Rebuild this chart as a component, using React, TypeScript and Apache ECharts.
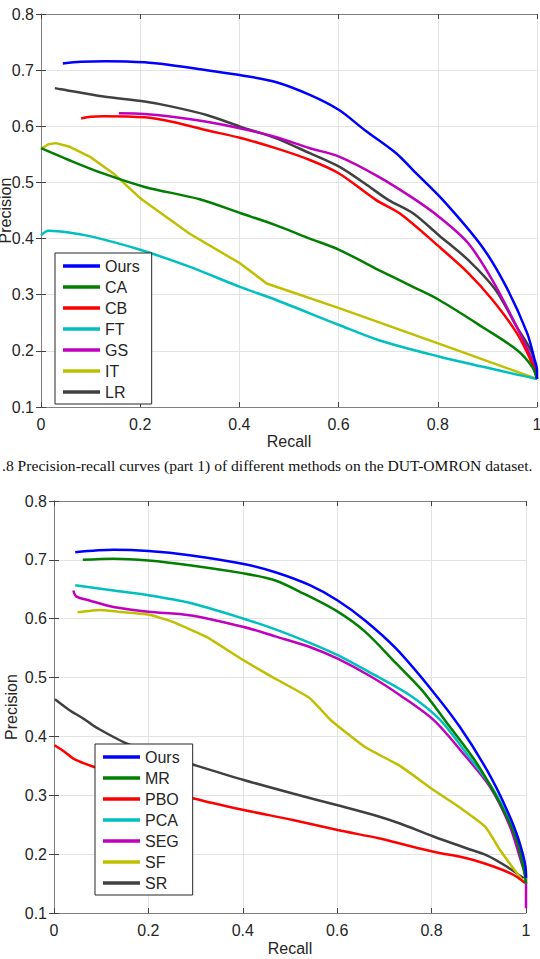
import React, { useEffect, useRef } from "react";
import * as echarts from "echarts";

// ---------- Data (recall, precision) ----------
const topNames = ["Ours", "CA", "CB", "FT", "GS", "IT", "LR"];
const bottomNames = ["Ours", "MR", "PBO", "PCA", "SEG", "SF", "SR"];

const xTickLabels = ["0", "0.2", "0.4", "0.6", "0.8", "1"];
const yTickLabels = ["0.1", "0.2", "0.3", "0.4", "0.5", "0.6", "0.7", "0.8"];

const oursTop = [[0.044,0.712],[0.08,0.715],[0.132,0.716],[0.209,0.714],[0.27,0.708],[0.334,0.700],[0.403,0.691],[0.473,0.679],[0.542,0.656],[0.601,0.629],[0.653,0.593],[0.716,0.552],[0.75,0.522],[0.81,0.469],[0.889,0.386],[0.938,0.314],[0.98,0.232],[0.995,0.185],[1.0,0.166],[1.0,0.15]];
const caTop = [[0,0.561],[0.056,0.540],[0.125,0.516],[0.209,0.492],[0.32,0.470],[0.403,0.445],[0.473,0.424],[0.542,0.400],[0.601,0.380],[0.681,0.344],[0.75,0.314],[0.802,0.291],[0.889,0.243],[0.959,0.202],[0.99,0.172],[1.0,0.15]];
const cbTop = [[0.081,0.614],[0.1,0.617],[0.125,0.618],[0.209,0.616],[0.264,0.608],[0.334,0.593],[0.403,0.579],[0.473,0.561],[0.542,0.540],[0.601,0.516],[0.675,0.469],[0.723,0.445],[0.802,0.386],[0.861,0.339],[0.910,0.291],[0.959,0.232],[0.990,0.178],[1.0,0.15]];
const ftTop = [[0,0.406],[0.015,0.414],[0.056,0.411],[0.105,0.403],[0.2,0.380],[0.299,0.350],[0.401,0.314],[0.473,0.291],[0.601,0.246],[0.681,0.219],[0.802,0.190],[0.889,0.172],[0.959,0.158],[1.0,0.15]];
const gsTop = [[0.157,0.623],[0.209,0.622],[0.264,0.617],[0.334,0.608],[0.403,0.596],[0.473,0.581],[0.542,0.561],[0.601,0.546],[0.681,0.510],[0.75,0.472],[0.802,0.439],[0.861,0.392],[0.910,0.326],[0.959,0.243],[0.990,0.184],[1.0,0.15]];
const itTop = [[0,0.56],[0.015,0.568],[0.03,0.570],[0.056,0.564],[0.098,0.546],[0.146,0.516],[0.2,0.472],[0.299,0.409],[0.401,0.356],[0.455,0.320],[0.601,0.276],[0.802,0.213],[1.0,0.15]];
const lrTop = [[0.028,0.668],[0.04,0.666],[0.126,0.653],[0.209,0.644],[0.264,0.635],[0.334,0.620],[0.403,0.599],[0.473,0.579],[0.542,0.552],[0.601,0.528],[0.653,0.498],[0.70,0.469],[0.75,0.445],[0.802,0.406],[0.861,0.362],[0.917,0.308],[0.959,0.243],[0.99,0.196],[1.0,0.15]];

const oursBot = [[0.045,0.713],[0.126,0.717],[0.2,0.715],[0.287,0.708],[0.402,0.693],[0.469,0.679],[0.542,0.657],[0.601,0.631],[0.659,0.597],[0.725,0.549],[0.800,0.479],[0.860,0.416],[0.917,0.343],[0.959,0.276],[0.987,0.218],[1.0,0.168],[1.0,0.16]];
const mrBot = [[0.061,0.700],[0.126,0.702],[0.2,0.699],[0.287,0.691],[0.402,0.677],[0.469,0.665],[0.528,0.643],[0.601,0.612],[0.659,0.578],[0.725,0.524],[0.779,0.479],[0.839,0.416],[0.896,0.354],[0.945,0.286],[0.980,0.224],[0.998,0.162],[1.0,0.15]];
const pboBot = [[0.001,0.385],[0.022,0.374],[0.046,0.360],[0.104,0.343],[0.2,0.317],[0.294,0.295],[0.402,0.275],[0.506,0.258],[0.601,0.241],[0.688,0.227],[0.733,0.218],[0.804,0.204],[0.874,0.193],[0.931,0.179],[0.973,0.165],[0.998,0.151]];
const pcaBot = [[0.045,0.657],[0.126,0.648],[0.2,0.640],[0.287,0.627],[0.402,0.600],[0.469,0.582],[0.542,0.559],[0.601,0.538],[0.673,0.507],[0.754,0.470],[0.818,0.428],[0.874,0.371],[0.931,0.309],[0.973,0.241],[0.995,0.184],[1.0,0.15]];
const segBot = [[0.041,0.648],[0.047,0.638],[0.075,0.631],[0.126,0.620],[0.2,0.612],[0.287,0.606],[0.402,0.586],[0.469,0.570],[0.542,0.552],[0.601,0.532],[0.673,0.501],[0.733,0.470],[0.804,0.428],[0.867,0.371],[0.924,0.314],[0.966,0.247],[0.991,0.184],[1.0,0.162],[1.0,0.108]];
const sfBot = [[0.05,0.611],[0.097,0.615],[0.136,0.612],[0.2,0.607],[0.25,0.595],[0.323,0.569],[0.396,0.532],[0.469,0.498],[0.542,0.465],[0.586,0.428],[0.659,0.382],[0.733,0.350],[0.804,0.309],[0.853,0.283],[0.913,0.247],[0.945,0.207],[0.973,0.176],[0.995,0.153]];
const srBot = [[0.002,0.463],[0.032,0.445],[0.061,0.431],[0.09,0.415],[0.163,0.385],[0.287,0.354],[0.402,0.326],[0.506,0.303],[0.601,0.283],[0.688,0.264],[0.733,0.252],[0.804,0.230],[0.874,0.210],[0.917,0.198],[0.959,0.179],[0.995,0.159]];

const topData = [oursTop, caTop, cbTop, ftTop, gsTop, itTop, lrTop];
const bottomData = [oursBot, mrBot, pboBot, pcaBot, segBot, sfBot, srBot];

const colors = ["#0000ff", "#007f00", "#ff0000", "#00bfbf", "#bf00bf", "#bfbf00", "#404040"];
const smoothTop = [0.3, 0.3, 0.3, 0.3, 0.3, 0, 0.3];
const smoothBottom = [0.3, 0.3, 0.3, 0.3, 0.3, 0.15, 0.3];

const caption = ".8 Precision-recall curves (part 1) of different methods on the DUT-OMRON dataset.";

const SANS = "Liberation Sans, Arial, Helvetica, sans-serif";
const TEXT = "#262626";
const FRAME = "#808080";
const GRID = "#e3e3e3";

function fmtX(v: number) {
  const r = Math.round(v * 5);
  return xTickLabels[r] ?? String(v);
}
function fmtY(v: number) {
  const r = Math.round(v * 10) - 1;
  return yTickLabels[r] ?? String(v);
}

export default function App() {
  const ref = useRef<HTMLDivElement>(null);
  useEffect(() => {
    if (!ref.current) return;
    const chart = echarts.init(ref.current, undefined, { renderer: "svg" });

    const xMain = (gridIndex: number, gap: number) => ({
      type: "value", gridIndex, min: 0, max: 1, interval: 0.2, position: "bottom",
      name: "Recall", nameLocation: "middle", nameGap: gap, nameMoveOverlap: false,
      nameTextStyle: { fontFamily: SANS, fontSize: 16, color: TEXT },
      axisLine: { show: true, lineStyle: { color: FRAME, width: 1 } },
      axisTick: { show: true, inside: true, length: 5, lineStyle: { color: "#444" } },
      axisLabel: { formatter: fmtX, fontFamily: SANS, fontSize: 16, color: TEXT, margin: 9 },
      splitLine: { show: true, lineStyle: { color: GRID, width: 1 } },
    });
    const xTop = (gridIndex: number) => ({
      type: "value", gridIndex, min: 0, max: 1, interval: 0.2, position: "top",
      axisLine: { show: true, lineStyle: { color: FRAME, width: 1 } },
      axisTick: { show: true, inside: true, length: 5, lineStyle: { color: "#444" } },
      axisLabel: { show: false }, splitLine: { show: false },
    });
    const yMain = (gridIndex: number, gap: number) => ({
      type: "value", gridIndex, min: 0.1, max: 0.8, interval: 0.1, position: "left",
      name: "Precision", nameLocation: "middle", nameGap: gap, nameMoveOverlap: false,
      nameTextStyle: { fontFamily: SANS, fontSize: 16, color: TEXT },
      axisLine: { show: true, lineStyle: { color: FRAME, width: 1 } },
      axisTick: { show: true, inside: true, length: 5, lineStyle: { color: "#444" } },
      axisLabel: { formatter: fmtY, fontFamily: SANS, fontSize: 16, color: TEXT, margin: 7 },
      splitLine: { show: true, lineStyle: { color: GRID, width: 1 } },
    });
    const yRight = (gridIndex: number) => ({
      type: "value", gridIndex, min: 0.1, max: 0.8, interval: 0.1, position: "right",
      axisLine: { show: true, lineStyle: { color: FRAME, width: 1 } },
      axisTick: { show: true, inside: true, length: 5, lineStyle: { color: "#444" } },
      axisLabel: { show: false }, splitLine: { show: false },
    });

    const mkSeries = (names: string[], data: number[][][], smooth: number[], axisIdx: number) =>
      names.map((n, i) => ({
        type: "line", name: n, data: data[i], xAxisIndex: axisIdx, yAxisIndex: axisIdx,
        showSymbol: false, symbol: "none", smooth: smooth[i],
        color: colors[i],
        lineStyle: { color: colors[i], width: 2.5 },
        z: 10 - i,
      }));

    const legendBase = {
      orient: "vertical", icon: "rect", itemWidth: 37, itemHeight: 3.5, itemGap: 5,
      backgroundColor: "#ffffff", borderColor: "#262626", borderWidth: 1,
      textStyle: { fontFamily: SANS, fontSize: 16, color: TEXT, padding: [0, 0, 0, 0] },
      selectedMode: false, z: 20,
    };

    chart.setOption({
      animation: false,
      backgroundColor: "#ffffff",
      grid: [
        { left: 41, top: 14, width: 496, height: 393, outerBoundsMode: "none", containLabel: false },
        { left: 54, top: 501, width: 472, height: 412, outerBoundsMode: "none", containLabel: false },
      ],
      xAxis: [xMain(0, 26), xTop(0), xMain(1, 27), xTop(1)],
      yAxis: [yMain(0, 28), yRight(0), yMain(1, 35), yRight(1)],
      legend: [
        { ...legendBase, data: topNames, left: 55, top: 253, padding: [5, 12, 4, 8] },
        { ...legendBase, data: bottomNames, left: 95, top: 744, padding: [5, 13, 4, 8] },
      ],
      graphic: [
        {
          type: "text", left: 2, top: 457,
          style: { text: caption, font: "15.6px 'Liberation Serif', 'Times New Roman', serif", fill: "#111" },
        },
      ],
      series: [
        ...mkSeries(topNames, topData, smoothTop, 0),
        ...mkSeries(bottomNames, bottomData, smoothBottom, 2),
      ],
    });
    return () => chart.dispose();
  }, []);
  return <div ref={ref} style={{ position: "absolute", left: 0, top: 0, width: 540, height: 959 }} />;
}
